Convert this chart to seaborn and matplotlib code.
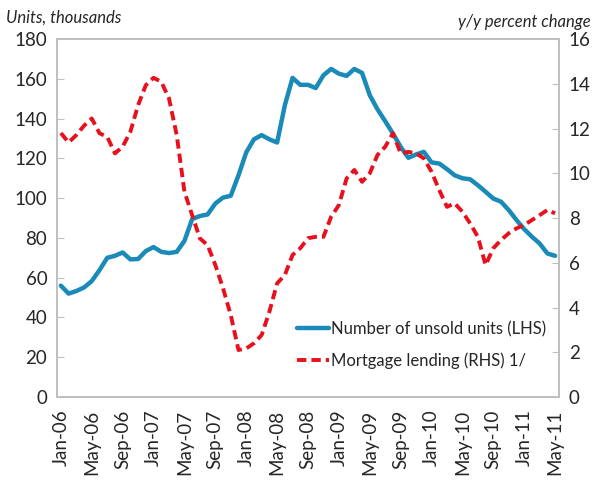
import matplotlib
matplotlib.use("Agg")
import matplotlib.pyplot as plt
import seaborn as sns
import numpy as np
import pandas as pd

# monthly categories Jan-06 .. May-11
months = pd.date_range("2006-01-01", "2011-05-01", freq="MS").strftime("%b-%y").tolist()

# number of unsold units, thousands (LHS)
unsold = [56, 52, 53.3, 55.1, 58.3, 63.8, 70, 71, 72.7, 69.2,
          69.4, 73.4, 75.4, 73, 72.4, 73, 78.5, 89.5, 91, 91.8,
          97.3, 100.3, 101.2, 111.5, 123, 129.6, 131.7, 129.6, 128, 146.7,
          160.5, 157, 157, 155.4, 161.8, 165, 162.6, 161.5, 165, 163,
          151.8, 144.7, 138.7, 132.5, 125.8, 120.3, 122, 123.3, 118, 117.4,
          114.6, 111.5, 110, 109.5, 106.5, 103.2, 99.8, 98.2, 94, 89,
          84.4, 80.6, 77.2, 72.2, 71]

# mortgage lending, y/y percent change (RHS)
lending = [11.8, 11.38, 11.71, 12.13, 12.45, 11.79, 11.63, 10.89, 11.19, 11.86,
           13.05, 13.94, 14.27, 14.09, 13.35, 11.71, 9.18, 8.13, 7.09, 6.79,
           5.9, 4.86, 3.66, 2.1, 2.17, 2.4, 2.77, 3.81, 5.08, 5.45,
           6.35, 6.65, 7.1, 7.16, 7.16, 8.06, 8.58, 9.77, 10.15, 9.62,
           10.0, 10.82, 11.19, 11.79, 10.89, 10.96, 10.89, 10.67, 10.07, 9.25,
           8.5, 8.66, 8.28, 7.76, 7.16, 5.9, 6.65, 7.02, 7.32, 7.54,
           7.69, 7.91, 8.13, 8.36, 8.21]

left_ticks = list(range(0, 181, 20))
right_ticks = list(range(0, 17, 2))

blue = "#1a8ab8"
red = "#e8101c"
grey = "#bfbfbf"

sns.set_style("white")
plt.rcParams["font.family"] = ["Lato", "DejaVu Sans"]

df = pd.DataFrame({"pos": np.arange(len(months)), "month": months,
                   "unsold": unsold, "lending": lending})

fig = plt.figure(figsize=(5.94, 4.95), dpi=100)
ax = fig.add_axes([0.096, 0.198, 0.845, 0.723])
ax2 = ax.twinx()

sns.lineplot(data=df, x="pos", y="unsold", ax=ax, color=blue, lw=3.2,
             label="Number of unsold units (LHS)", legend=False)
sns.lineplot(data=df, x="pos", y="lending", ax=ax2, color=red, lw=2.8,
             linestyle=(0, (2.4, 1.3)), label="Mortgage lending (RHS) 1/", legend=False)

ax.set_xlim(-0.5, len(months) - 0.5)
ax.set_ylim(0, 180)
ax2.set_ylim(0, 16)
ax.set_yticks(left_ticks)
ax2.set_yticks(right_ticks)

# labels every 4 months, tick marks between categories
ax.set_xticks(df["pos"][::4])
ax.set_xticklabels(df["month"][::4], rotation=90)
ax.set_xticks(np.arange(-0.5, len(months), 4), minor=True)
ax.tick_params(axis="x", which="major", length=0, pad=9, labelsize=13.5)
ax.tick_params(axis="x", which="minor", direction="in", length=5, color=grey, width=1)
ax.tick_params(axis="y", direction="in", length=5, color=grey, labelsize=13.5, pad=7)
ax2.tick_params(axis="y", direction="in", length=5, color=grey, labelsize=13.5, pad=7)
ax.set_xlabel("")
ax.set_ylabel("")
ax2.set_ylabel("")

for a in (ax, ax2):
    for s in a.spines.values():
        s.set_color(grey)
        s.set_linewidth(1.2)

fig.text(0.01, 0.965, "Units, thousands", fontsize=12, style="italic", ha="left", va="center")
fig.text(0.995, 0.955, "y/y percent change", fontsize=12, style="italic", ha="right", va="center")

h1, l1 = ax.get_legend_handles_labels()
h2, l2 = ax2.get_legend_handles_labels()
ax2.legend(h1 + h2, l1 + l2, loc="lower left", bbox_to_anchor=(0.465, 0.06),
           frameon=False, fontsize=12, handlelength=1.9, handletextpad=0.15,
           labelspacing=0.9, borderaxespad=0)

fig.savefig("out.png", dpi=100)
